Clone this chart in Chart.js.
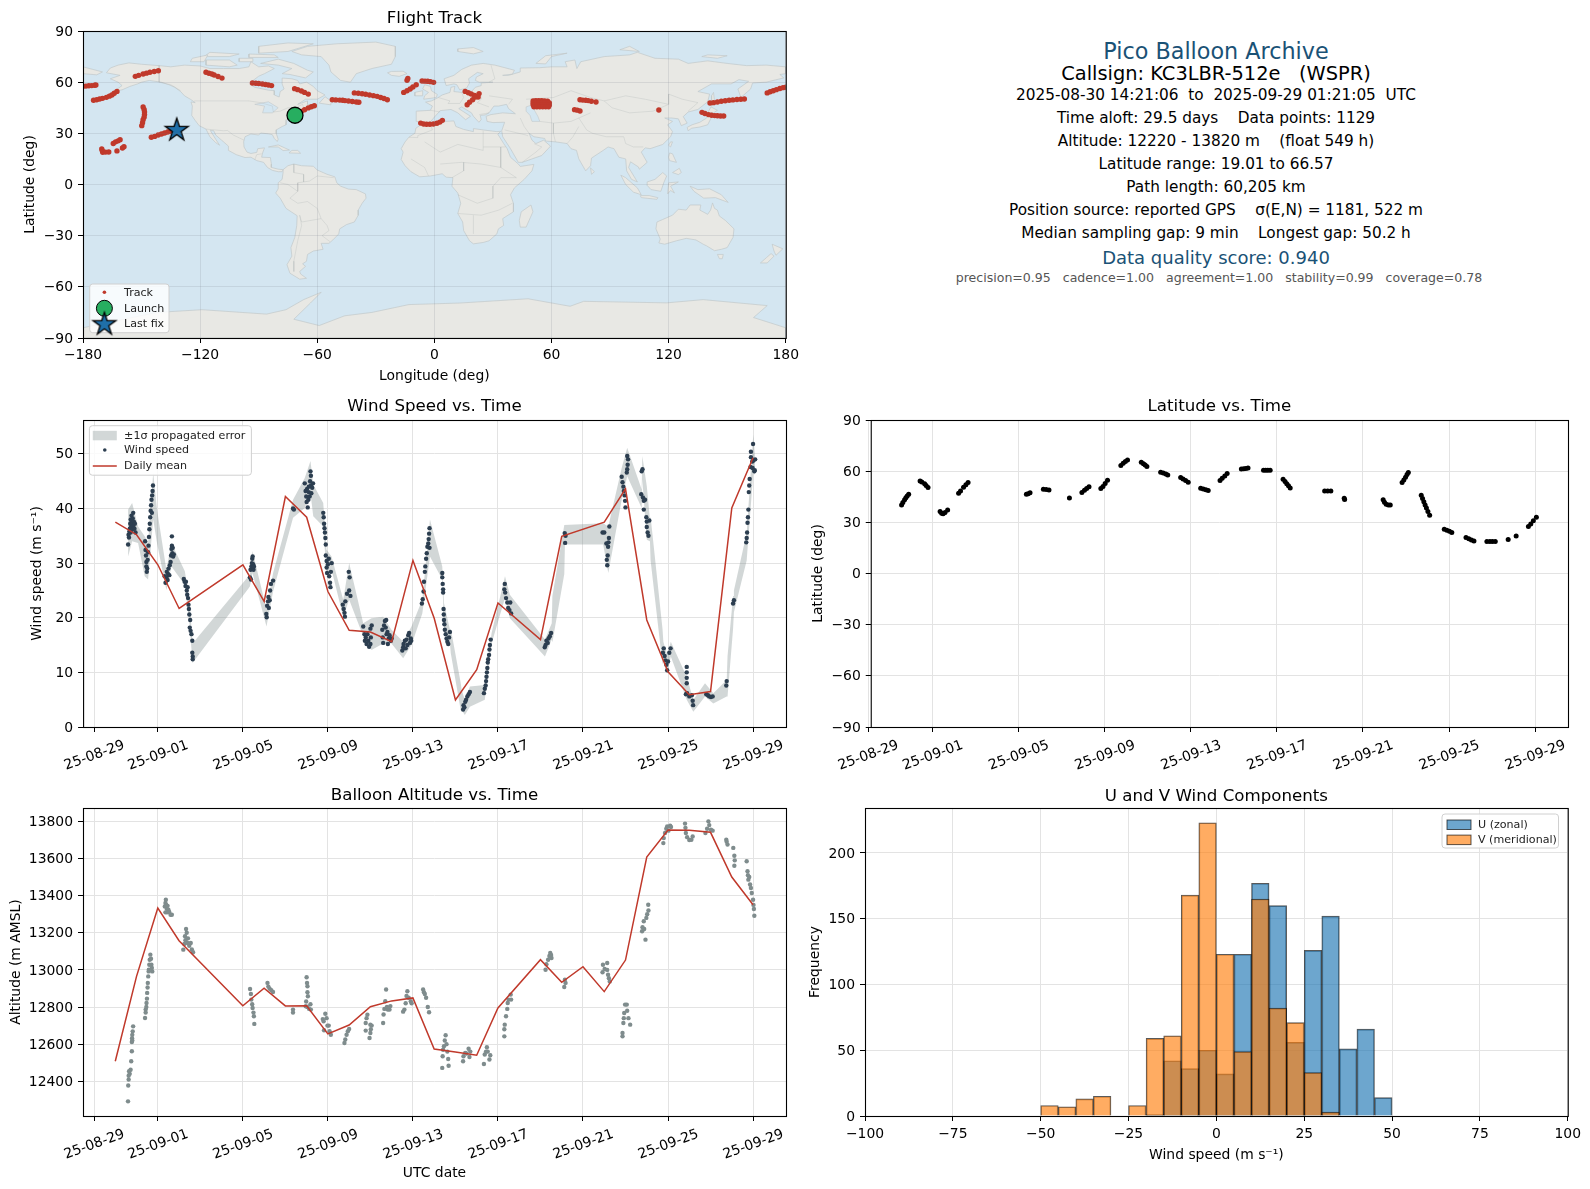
<!DOCTYPE html>
<html>
<head>
<meta charset="utf-8">
<title>Pico Balloon Archive</title>
<script src="https://cdn.jsdelivr.net/npm/chart.js@4"></script>
<style>
    body { margin: 0; background: #fff; font-family: "DejaVu Sans", sans-serif; }
    #page { position: relative; width: 1590px; height: 1189px; overflow: hidden; }
    canvas { position: absolute; }
    .info { position: absolute; left: 816px; width: 800px; text-align: center; white-space: pre; color: #000; font-size: 15.3px; line-height: 20px; }
    .big { font-size: 22.3px; color: #1a5276; }
    .call { font-size: 19.4px; }
    .score { font-size: 18px; color: #1a5276; }
    .small { left: 819px; font-size: 12.55px; color: #555; }
</style>
</head>
<body>
<div id="page">
    <canvas id="mapChart"></canvas>
    <canvas id="windChart"></canvas>
    <canvas id="latChart"></canvas>
    <canvas id="altChart"></canvas>
    <canvas id="histChart"></canvas>
</div>
<script>
// time is in days since 25-08-29 00:00 UTC
const timeTickDays = [0, 3, 7, 11, 15, 19, 23, 27, 31];
const timeTickLabels = ["25-08-29", "25-09-01", "25-09-05", "25-09-09", "25-09-13", "25-09-17", "25-09-21", "25-09-25", "25-09-29"];
const altTicks = [12400, 12600, 12800, 13000, 13200, 13400, 13600, 13800];

const infoLines = [
    ["big", 51, "Pico Balloon Archive"],
    ["call", 74.3, "Callsign: KC3LBR-512e   (WSPR)"],
    ["", 95.3, "2025-08-30 14:21:06  to  2025-09-29 01:21:05  UTC"],
    ["", 118.3, "Time aloft: 29.5 days    Data points: 1129"],
    ["", 141.3, "Altitude: 12220 - 13820 m    (float 549 h)"],
    ["", 164.3, "Latitude range: 19.01 to 66.57"],
    ["", 187.3, "Path length: 60,205 km"],
    ["", 210.3, "Position source: reported GPS    σ(E,N) = 1181, 522 m"],
    ["", 233.3, "Median sampling gap: 9 min    Longest gap: 50.2 h"],
    ["score", 258, "Data quality score: 0.940"],
    ["small", 277.7, "precision=0.95   cadence=1.00   agreement=1.00   stability=0.99   coverage=0.78"],
];

const launchPoint = [-71.4, 40.6];
const lastFixPoint = [-132, 32.5];

const trackPoints = [
    [-180, 57.6], [-178.5, 57.7], [-177, 57.9], [-175.5, 58], [-174, 58.2], [-173.4, 58.3],
    [-174.6, 49.4], [-173, 49.7], [-171.5, 50.1], [-170, 50.5], [-168, 51.1], [-166.5, 51.8], [-165.2, 52.5], [-164, 53.5], [-162.6, 54.6],
    [-153.2, 63.4], [-151.5, 64], [-149.2, 64.8], [-147.5, 65.3], [-145.7, 65.8], [-143.5, 66.3], [-141.4, 66.7],
    [-117, 65.8], [-115.5, 65.2], [-114, 64.8], [-112.8, 64.2], [-110.8, 63.3], [-108.8, 62.4],
    [-93.2, 59.5], [-91.5, 59.4], [-90, 59.2], [-88.1, 58.9], [-86.5, 58.6], [-85, 58.3], [-83.4, 58],
    [-71.6, 56.2], [-70, 55.6], [-68.1, 54.8], [-66.5, 54], [-64.6, 53],
    [-68.1, 42.9], [-66.5, 43.8], [-64.6, 44.9], [-63, 45.6], [-61.5, 46.2],
    [-52.3, 49.7], [-50.5, 49.6], [-48.5, 49.5], [-47, 49.4], [-45.8, 49.2], [-44, 49], [-42, 48.7], [-40, 48.4], [-38.7, 48.2],
    [-41, 53.7], [-39, 53.5], [-37, 53.2], [-35.2, 52.9], [-33.2, 52.5], [-31.2, 52.1], [-29.3, 51.7], [-27.5, 51], [-25.8, 50.4], [-24.1, 49.7],
    [-15.7, 54], [-14, 55], [-12.4, 56], [-11, 57.2], [-9.3, 58.5],
    [-14, 61.1], [-13.6, 62.2],
    [-6.3, 60.7], [-4.8, 60.6], [-3.4, 60.5], [-2, 60.3], [-0.4, 59.9],
    [15.8, 54.6], [17.4, 53.8], [18.9, 53.1], [20.6, 52.2], [22.4, 51.3],
    [16.8, 46.8], [18, 48.2], [19.6, 49.7], [21, 51.3], [22.9, 53.3],
    [-7, 36], [-5.5, 35.5], [-4, 35.3], [-2.3, 35.3], [-0.5, 35.5], [1.3, 35.9], [2.8, 36.6], [4.1, 37.6],
    [50.6, 49], [52, 49.2], [53.5, 49.2], [55, 49.2], [56.5, 49], [58, 48.8],
    [50.6, 47.8], [52, 48], [53.5, 48], [55, 48], [56.5, 48], [58, 48], [58.9, 47.8],
    [50.6, 46.8], [52, 46.8], [53.5, 46.8], [55, 46.8], [56.5, 46.8], [58, 46.8], [58.9, 46.6],
    [51, 45.6], [52.5, 45.6], [54, 45.6], [55.5, 45.6], [57, 45.6], [58.5, 45.6],
    [71.8, 43.9], [73.2, 43.6], [74.6, 43.1],
    [74.6, 49.7], [76, 49.5], [77.5, 49.4], [78.8, 49.2], [80.4, 48.8], [82.8, 48.4],
    [115, 43.7],
    [141.2, 47.8], [143, 48], [145, 48.4], [147, 48.8], [149, 49.1], [151, 49.4], [152.9, 49.6], [155, 49.8], [157, 50], [158.8, 50.1],
    [137.1, 42.3], [138.6, 41.6], [140.4, 41], [142, 40.6], [143.6, 40.4], [145, 40.3], [146.6, 40.2], [148.2, 40.2],
    [170.5, 53.7], [172, 54.4], [173.6, 55], [175.2, 55.6], [177, 56.3], [178.6, 56.8], [180, 57],
    [-149.2, 45.4], [-148.7, 44], [-148.5, 42.5], [-148.5, 41], [-148.7, 39.5], [-149.2, 38], [-149.5, 36.2], [-149.9, 34.5],
    [-145, 27.7], [-143.3, 28.2], [-141.5, 29], [-139.8, 29.6], [-138.2, 30.2], [-136.6, 30.8], [-135.1, 31.2],
    [-164.5, 24], [-163.3, 25], [-162, 25.6], [-161, 26.3],
    [-170.4, 20.8], [-170.1, 19.8], [-169.9, 18.9], [-168.4, 19], [-166.8, 19.1],
    [-162.6, 19.7], [-159.8, 21.4], [-159, 22.2],
];

const windPoints = [
    [1.60, 33.4], [1.62, 35.2], [1.64, 34.7], [1.66, 35.8], [1.68, 36.3], [1.70, 37.2], [1.72, 38.0], [1.72, 35.6], [1.74, 36.6], [1.76, 37.7], [1.76, 38.7], [1.78, 36.1], [1.80, 37.2], [1.82, 38.2], [1.84, 39.2], [1.84, 36.7], [1.87, 37.6], [1.90, 36.3], [1.92, 37.2], [1.95, 35.6],
    [2.40, 34.0], [2.42, 32.4], [2.44, 31.4], [2.46, 30.2], [2.46, 29.4], [2.48, 28.4], [2.50, 29.0], [2.52, 30.6], [2.54, 32.0], [2.56, 33.2], [2.58, 34.8], [2.60, 36.2], [2.62, 37.2], [2.64, 38.4], [2.66, 39.6], [2.68, 40.6], [2.70, 41.6], [2.72, 39.2], [2.73, 42.4], [2.75, 43.2], [2.77, 44.2],
    [3.32, 27.6], [3.36, 26.4], [3.40, 27.4], [3.42, 28.4], [3.46, 26.9], [3.48, 28.0], [3.50, 29.0], [3.54, 27.8], [3.56, 29.6], [3.60, 30.2], [3.62, 31.4], [3.64, 32.6], [3.66, 33.2], [3.66, 34.9], [3.68, 31.8], [3.70, 32.8], [3.72, 31.2], [3.75, 31.6],
    [4.22, 27.1], [4.26, 26.6], [4.30, 25.8], [4.32, 26.6], [4.36, 25.0], [4.38, 24.2], [4.40, 25.6], [4.42, 23.6], [4.44, 22.4], [4.46, 21.6], [4.48, 20.6], [4.52, 19.6], [4.50, 18.2], [4.54, 17.6], [4.58, 17.0], [4.62, 15.8], [4.62, 13.6], [4.64, 12.9], [4.64, 12.4],
    [7.33, 27.4], [7.38, 27.0], [7.36, 28.8], [7.40, 29.4], [7.42, 30.0], [7.44, 30.8], [7.46, 31.2], [7.48, 29.8], [7.50, 28.8], [7.52, 29.4],
    [8.10, 20.7], [8.12, 20.1], [8.14, 22.2], [8.18, 23.0], [8.20, 23.8], [8.22, 21.8], [8.26, 23.2], [8.28, 25.0], [8.32, 26.2], [8.42, 26.8],
    [9.36, 40.0], [9.40, 39.8],
    [9.91, 44.6], [9.95, 43.2], [9.98, 42.2], [10.0, 41.2], [10.02, 43.6], [10.05, 40.2], [10.08, 41.6], [10.10, 43.0], [10.10, 44.0], [10.14, 42.2], [10.16, 45.0], [10.18, 46.8], [10.20, 46.0], [10.2, 44.2], [10.22, 42.8], [10.26, 43.8], [10.30, 44.6],
    [10.78, 39.2], [10.80, 38.4], [10.82, 37.2], [10.84, 36.4], [10.86, 35.6], [10.88, 34.6], [10.90, 33.4], [10.90, 31.4], [10.94, 30.4], [10.94, 29.2], [10.96, 28.2], [11.0, 29.8], [11.04, 30.8], [11.06, 27.6], [11.10, 26.4], [11.12, 25.6], [11.14, 28.4], [11.18, 30.0],
    [11.70, 22.4], [11.74, 21.6], [11.78, 20.9], [11.80, 20.2], [11.82, 23.0], [11.90, 24.4], [11.98, 28.4], [12.02, 27.4], [12.0, 25.0], [12.06, 24.0],
    [12.66, 18.4], [12.72, 17.0], [12.74, 15.8], [12.78, 16.4], [12.82, 15.2], [12.86, 17.0], [12.90, 15.8], [12.94, 14.7], [13.0, 15.2], [13.02, 16.4], [13.0, 18.0], [13.06, 18.6],
    [13.56, 17.8], [13.58, 16.4], [13.60, 15.4], [13.64, 18.6], [13.68, 19.4], [13.72, 18.2], [13.74, 19.6], [13.76, 17.0], [13.80, 17.4], [13.82, 15.2], [13.86, 16.2], [13.90, 16.8], [13.96, 15.8], [14.0, 16.2],
    [14.50, 14.0], [14.54, 14.6], [14.56, 15.2], [14.62, 15.8], [14.66, 14.4], [14.70, 16.0], [14.74, 15.0], [14.78, 16.8], [14.82, 17.2], [14.86, 15.4], [14.90, 16.2], [14.92, 15.8],
    [15.42, 22.6], [15.46, 23.4], [15.50, 24.8], [15.52, 26.6], [15.56, 28.4], [15.58, 29.4], [15.62, 30.8], [15.65, 31.8], [15.68, 33.0], [15.72, 33.6], [15.74, 34.4], [15.76, 35.4], [15.78, 36.4], [15.78, 32.8],
    [16.38, 28.2], [16.38, 27.4], [16.40, 26.2], [16.42, 25.2], [16.42, 24.6], [16.44, 21.6], [16.45, 20.6], [16.46, 19.6], [16.48, 18.8], [16.50, 17.8], [16.54, 17.0], [16.58, 16.2], [16.62, 15.6], [16.66, 15.2], [16.70, 16.4], [16.74, 17.4],
    [17.36, 3.2], [17.38, 4.0], [17.42, 3.6], [17.46, 4.6], [17.50, 5.0], [17.56, 5.6], [17.62, 6.0], [17.68, 6.4],
    [18.34, 6.2], [18.38, 7.0], [18.42, 7.6], [18.44, 8.4], [18.46, 9.2], [18.48, 10.0], [18.50, 10.8], [18.52, 11.8], [18.54, 12.4], [18.58, 13.2], [18.60, 14.2], [18.62, 15.0], [18.66, 16.0],
    [19.32, 26.2], [19.30, 25.2], [19.34, 24.6], [19.38, 23.6], [19.44, 22.8], [19.48, 21.8], [19.54, 21.4], [19.58, 22.8], [19.62, 20.8],
    [21.20, 14.6], [21.24, 15.0], [21.28, 15.8], [21.34, 15.4], [21.38, 16.2], [21.44, 16.6], [21.5, 17.2],
    [22.14, 35.5], [22.16, 33.7], [22.18, 35.0],
    [23.92, 35.6], [24.00, 35.6], [24.10, 33.6], [24.12, 30.6], [24.14, 29.6], [24.16, 31.4], [24.18, 33.0], [24.2, 33.8], [24.22, 34.6], [24.24, 36.7],
    [24.82, 45.8], [24.86, 44.8], [24.90, 44.0], [24.92, 43.2], [24.96, 42.4], [24.98, 41.4], [25.0, 40.2], [25.06, 46.6], [25.08, 47.2], [25.1, 48.0], [25.08, 49.6], [25.12, 49.0],
    [25.76, 46.8], [25.80, 47.2], [25.74, 42.6], [25.82, 42.0], [25.86, 41.4], [25.92, 41.6], [25.86, 39.8], [25.98, 38.4], [26.0, 37.6], [26.0, 36.6], [26.04, 35.6], [26.08, 35.0], [26.12, 37.8],
    [26.76, 13.6], [26.80, 14.4], [26.84, 13.0], [26.88, 12.2], [26.92, 11.4], [26.96, 10.4], [27.0, 12.0], [27.06, 13.6], [27.12, 14.4],
    [27.88, 11.0], [27.88, 10.0], [27.88, 9.0], [27.88, 8.0], [27.9, 6.2], [27.84, 6.0], [28.0, 5.6], [28.12, 5.8], [28.16, 4.8], [28.18, 4.0],
    [28.80, 6.0], [28.88, 5.8], [28.94, 5.6], [29.02, 5.5], [29.1, 5.6],
    [29.74, 7.6], [29.76, 8.4],
    [30.06, 22.6], [30.1, 23.2],
    [30.68, 33.8], [30.7, 34.6], [30.72, 35.6], [30.74, 37.4], [30.76, 38.4], [30.78, 39.8], [30.80, 43.0], [30.82, 44.2], [30.84, 45.4], [30.88, 47.6], [30.90, 49.4], [30.90, 50.4], [30.96, 48.6], [30.98, 47.4], [31.0, 51.8], [31.02, 48.8], [31.06, 46.8], [31.08, 47.0], [31.1, 49.0],
];

// day, low edge, high edge of the 1 sigma band
const windBand = [
    [1.60, 31.2, 39.8], [1.79, 34.0, 41.0], [2.07, 33.7, 36.7], [2.38, 27.6, 34.9], [2.54, 27.0, 33.7], [2.78, 38.0, 46.5], [2.96, 33.7, 39.8],
    [3.40, 25.1, 28.8], [3.64, 29.4, 33.7], [4.27, 26.0, 28.5], [4.50, 18.4, 22.7], [4.63, 11.7, 15.3], [7.33, 25.7, 27.9], [7.45, 28.2, 32.2],
    [8.11, 18.4, 21.5], [8.42, 24.8, 28.2], [9.36, 38.3, 41.6], [9.91, 40.1, 45.6], [10.18, 42.8, 48.7], [10.31, 38.6, 44.4], [10.78, 36.7, 41.0],
    [10.93, 28.2, 32.5], [11.17, 28.8, 31.2], [11.72, 20.2, 23.3], [12.00, 23.3, 30.0], [12.66, 16.6, 19.0], [13.05, 14.1, 19.9], [13.60, 15.3, 20.2],
    [13.99, 15.3, 17.8], [14.54, 12.6, 15.6], [14.93, 15.0, 18.4], [15.44, 20.8, 23.3], [15.80, 31.2, 38.0], [16.38, 27.0, 29.4], [16.46, 18.4, 22.7],
    [16.74, 15.3, 17.8], [16.78, 13.5, 18.0], [17.25, 3.0, 8.0], [17.29, 3.1, 6.8], [17.44, 2.2, 5.0], [17.68, 3.7, 7.4], [18.38, 5.0, 7.7], [18.70, 15.3, 17.2], [19.33, 23.6, 27.6],
    [19.56, 19.9, 24.2], [21.21, 12.9, 16.0], [21.53, 16.0, 19.0], [21.56, 15.5, 24.0], [22.12, 28.0, 37.0], [22.15, 33.4, 37.0], [23.95, 33.4, 37.3], [24.19, 28.2, 36.7], [24.82, 41.6, 47.4],
    [25.08, 45.9, 51.1], [25.76, 40.1, 43.5], [25.79, 45.3, 49.6], [26.00, 34.3, 44.1], [26.15, 34.0, 38.0], [26.18, 30.5, 38.5], [26.74, 11.5, 18.0], [26.78, 12.3, 15.6], [26.96, 9.8, 13.2],
    [27.13, 12.9, 15.6], [27.88, 5.0, 9.2], [28.19, 2.8, 5.0], [28.74, 5.6, 8.0], [29.13, 4.3, 6.2], [29.76, 5.6, 8.6], [29.80, 5.6, 13.0], [30.06, 18.0, 24.0], [30.10, 21.0, 25.0],
    [30.70, 30.5, 35.5], [31.01, 46.5, 53.5], [31.09, 46.2, 49.6],
];

const windMeanDays = [1, 2, 3, 4, 7, 8, 9, 10, 11, 12, 13, 14, 15, 16, 17, 18, 19, 21, 22, 24, 25, 26, 27, 28, 29, 30, 31];
const windMeanValues = [37.5, 35.2, 29.7, 21.7, 29.7, 23.0, 42.2, 38.4, 24.8, 17.7, 17.4, 15.6, 30.5, 19.9, 4.95, 10.5, 22.7, 16.0, 34.9, 37.5, 43.6, 19.6, 10.1, 5.9, 6.5, 40.1, 49.3];

const latPoints = [
    [1.56, 40.2], [1.62, 41.6], [1.70, 43.2], [1.76, 44.4], [1.82, 45.4], [1.89, 46.5],
    [2.42, 54.3], [2.50, 53.6], [2.63, 52.6], [2.70, 51.6], [2.79, 50.4],
    [3.35, 36.3], [3.42, 35.4], [3.49, 35], [3.58, 35.8], [3.70, 37.3],
    [4.21, 47.1], [4.30, 48.4], [4.44, 50.6], [4.55, 52], [4.65, 53.3],
    [7.36, 46.5], [7.44, 46.8], [7.53, 47.3],
    [8.15, 49.4], [8.28, 49.2], [8.41, 48.9],
    [9.36, 44.2],
    [9.94, 47.5], [10.06, 48.8], [10.16, 49.8], [10.27, 50.8],
    [10.82, 49.8], [10.92, 51], [11.02, 52.8], [11.13, 54.7],
    [11.75, 63.3], [11.86, 64.6], [11.96, 65.6], [12.06, 66.6],
    [12.70, 65.3], [12.80, 64.4], [12.88, 63.6], [12.96, 62.7],
    [13.60, 59.4], [13.72, 58.9], [13.84, 58.3], [13.93, 57.8],
    [14.53, 56.3], [14.64, 55.4], [14.76, 54.5], [14.88, 53.5],
    [15.46, 50], [15.58, 49.6], [15.70, 49.1], [15.81, 48.7],
    [16.36, 54.5], [16.46, 55.8], [16.58, 57.2], [16.69, 58.6],
    [17.35, 61.2], [17.46, 61.4], [17.56, 61.6], [17.66, 61.8],
    [18.38, 60.6], [18.48, 60.6], [18.58, 60.6], [18.69, 60.6],
    [19.29, 55.3], [19.38, 53.9], [19.46, 52.6], [19.54, 51.4], [19.62, 50.2],
    [21.22, 48.3], [21.36, 48.3], [21.51, 48.3],
    [22.13, 44.1], [22.15, 43.4],
    [23.94, 43.2], [24.0, 41.8], [24.08, 40.6], [24.18, 40.2], [24.27, 40.2],
    [24.82, 53.3], [24.90, 54.8], [24.98, 56.4], [25.05, 58], [25.11, 59.2],
    [25.71, 45.9], [25.77, 44], [25.83, 42], [25.89, 40.2], [25.95, 38.4], [26.02, 36.3], [26.10, 34.2],
    [26.78, 26], [26.90, 25.4], [27.02, 24.8], [27.13, 24],
    [27.79, 21.1], [27.92, 20.4], [28.04, 19.6], [28.16, 19.1],
    [28.76, 18.7], [28.90, 18.7], [29.02, 18.7], [29.15, 18.7],
    [29.75, 19.9],
    [30.12, 22],
    [30.69, 27.5], [30.80, 29], [30.92, 31], [31.06, 33],
];

const altPoints = [
    [1.60, 12292], [1.61, 12377], [1.63, 12409], [1.63, 12430], [1.65, 12454], [1.68, 12440], [1.72, 12462], [1.75, 12508], [1.78, 12562], [1.78, 12612], [1.79, 12632], [1.80, 12650], [1.82, 12669], [1.84, 12696], [1.80, 12620],
    [2.40, 12741], [2.43, 12786], [2.43, 12770], [2.46, 12800], [2.47, 12822], [2.49, 12845], [2.50, 12876], [2.52, 12905], [2.53, 12930], [2.55, 12965], [2.57, 12992], [2.58, 13001], [2.60, 13028], [2.62, 13055], [2.65, 13082], [2.68, 13060], [2.70, 13028], [2.74, 12992], [2.72, 13010],
    [3.33, 13342], [3.36, 13360], [3.38, 13378], [3.40, 13350], [3.42, 13330], [3.46, 13345], [3.50, 13324], [3.54, 13312], [3.60, 13297], [3.66, 13297], [3.36, 13310], [3.44, 13310],
    [4.20, 13109], [4.25, 13140], [4.28, 13181], [4.30, 13160], [4.33, 13220], [4.36, 13200], [4.40, 13145], [4.42, 13170], [4.48, 13130], [4.55, 13145], [4.60, 13110], [4.66, 13095],
    [7.34, 12897], [7.38, 12870], [7.40, 12840], [7.44, 12815], [7.46, 12795], [7.50, 12770], [7.52, 12750], [7.54, 12709],
    [8.16, 12930], [8.2, 12910], [8.26, 12899], [8.34, 12890], [8.42, 12881],
    [9.36, 12786], [9.36, 12770],
    [10.0, 12960], [10.02, 12930], [10.04, 12912], [10.04, 12880], [10.06, 12858], [9.98, 12830], [9.96, 12804], [10.04, 12800], [10.12, 12790], [10.2, 12786], [10.18, 12815],
    [10.76, 12735], [10.8, 12723], [10.82, 12675], [10.88, 12764], [10.94, 12740], [10.98, 12700], [11.04, 12700], [11.08, 12670], [11.14, 12651],
    [11.78, 12606], [11.82, 12625], [11.88, 12651], [11.94, 12670], [12.0, 12682],
    [12.78, 12673], [12.78, 12714], [12.82, 12740], [12.86, 12759], [13.0, 12705], [12.96, 12633], [13.0, 12660], [13.06, 12700], [13.02, 12680],
    [13.6, 12714], [13.62, 12760], [13.66, 12790], [13.7, 12831], [13.74, 12894], [13.78, 12800], [13.82, 12786], [13.9, 12786], [13.94, 12805],
    [14.54, 12775], [14.6, 12786], [14.66, 12820], [14.7, 12860], [14.74, 12885], [14.8, 12850], [14.9, 12831], [14.94, 12820],
    [15.48, 12894], [15.56, 12870], [15.62, 12850], [15.70, 12800], [15.76, 12772], [15.52, 12880],
    [16.38, 12472], [16.40, 12535], [16.42, 12570], [16.46, 12589], [16.5, 12620], [16.54, 12648], [16.58, 12600], [16.62, 12560], [16.68, 12484], [16.66, 12520],
    [17.36, 12508], [17.38, 12535], [17.46, 12553], [17.52, 12550], [17.62, 12575], [17.66, 12531], [17.7, 12560],
    [18.34, 12493], [18.38, 12544], [18.44, 12560], [18.48, 12583], [18.52, 12560], [18.6, 12517], [18.64, 12540],
    [19.3, 12642], [19.3, 12680], [19.32, 12705], [19.38, 12750], [19.44, 12790], [19.46, 12822], [19.5, 12840], [19.6, 12867], [19.62, 12840],
    [21.24, 13001], [21.28, 13030], [21.36, 13055], [21.42, 13075], [21.46, 13091], [21.52, 13064], [21.5, 13080],
    [22.15, 12947], [22.12, 12908], [22.18, 12930],
    [23.94, 13028], [23.92, 12987], [24.02, 13005], [24.14, 13037], [24.14, 13000], [24.18, 12974], [24.26, 12938], [24.22, 12955],
    [24.86, 12642], [24.86, 12660], [24.9, 12714], [24.92, 12740], [24.94, 12768], [24.98, 12813], [25.06, 12813], [25.08, 12780], [25.14, 12740], [25.22, 12705],
    [25.78, 13208], [25.8, 13230], [25.86, 13262], [25.88, 13220], [25.94, 13163], [25.98, 13280], [26.02, 13300], [26.07, 13351], [26.08, 13320],
    [26.78, 13683], [26.8, 13710], [26.86, 13737], [26.92, 13760], [26.96, 13773], [27.02, 13750], [27.1, 13777], [27.14, 13770],
    [27.8, 13788], [27.82, 13765], [27.84, 13737], [27.9, 13715], [28.0, 13700], [28.1, 13701], [28.16, 13719],
    [28.76, 13737], [28.84, 13760], [28.9, 13800], [28.94, 13780], [29.02, 13755], [29.1, 13750],
    [29.74, 13701], [29.76, 13690], [29.8, 13675],
    [30.07, 13657], [30.12, 13615], [30.14, 13590], [30.12, 13561],
    [30.7, 13585], [30.74, 13531], [30.76, 13510], [30.78, 13486], [30.82, 13500], [30.86, 13460], [30.9, 13441], [30.94, 13414], [31.0, 13378], [31.02, 13350], [31.04, 13328], [31.06, 13292],
];

const altMeanDays = [1, 2, 3, 4, 7, 8, 9, 10, 11, 12, 13, 14, 15, 16, 17, 18, 19, 21, 22, 23, 24, 25, 26, 27, 28, 29, 30, 31];
const altMeanValues = [12508, 12965, 13333, 13157, 12807, 12901, 12806, 12807, 12655, 12703, 12802, 12833, 12849, 12574, 12558, 12540, 12795, 13055, 12933, 13017, 12883, 13053, 13608, 13753, 13752, 13741, 13500, 13351];

const histBinCenters = [-47.5, -42.5, -37.5, -32.5, -27.5, -22.5, -17.5, -12.5, -7.5, -2.5, 2.5, 7.5, 12.5, 17.5, 22.5, 27.5, 32.5, 37.5, 42.5, 47.5];
const histU = [0, 0, 0, 0, 0, 0, 1, 42, 36, 50, 32, 123, 177, 160, 56, 126, 152, 51, 66, 14];
const histV = [8, 7, 13, 15, 0, 8, 59, 61, 168, 223, 123, 49, 165, 82, 71, 33, 3, 0, 0, 0];

const landPolygons = [
    // North America
    [[-168, 65.5], [-166, 68.3], [-162, 70], [-156.5, 71.3], [-150, 70.5], [-141, 69.7], [-135, 69], [-128, 70], [-120, 69.5], [-115, 68], [-108, 68], [-100, 68], [-95, 69], [-94, 72], [-90, 69], [-85, 69.5], [-82, 68], [-87, 65], [-90, 63.5], [-94, 60], [-94.5, 58.7], [-92, 57], [-85, 55.3], [-82, 55], [-82, 52.5], [-79.5, 51.3], [-79, 54.5], [-77, 56], [-78, 59], [-78, 62.4], [-73, 62], [-70, 61], [-69, 59], [-65.5, 60], [-62, 57.5], [-60, 55], [-56, 52.5], [-60, 50], [-66, 50], [-70, 47], [-65, 49], [-65, 47], [-61, 46], [-66, 44], [-70, 43.5], [-70, 41.7], [-74, 40.5], [-75.5, 38], [-76, 35], [-78, 34], [-81, 32], [-81, 30], [-80, 26.5], [-80.5, 25.2], [-82, 27], [-83, 29.2], [-85, 29.7], [-89, 30.2], [-90, 29], [-94, 29.6], [-97, 28], [-97.7, 25], [-97.5, 22], [-96, 19], [-94, 18.2], [-91, 18.8], [-90.5, 21], [-87, 21.5], [-88, 18.5], [-88.5, 16], [-84, 15.8], [-83.5, 12], [-83.5, 10], [-80, 9], [-77.5, 8.7], [-78, 7.5], [-80, 7.5], [-83, 8.3], [-85.5, 10], [-87.5, 13], [-91, 14], [-94, 16], [-97, 15.8], [-101.5, 17.5], [-105.5, 20], [-105.5, 22.5], [-109, 26], [-112, 29], [-113, 31.5], [-114.8, 31.7], [-112, 26.5], [-110, 23], [-112, 24.5], [-115, 28], [-117, 32.5], [-120.5, 34.5], [-122.5, 37.5], [-124.3, 40.5], [-124, 46], [-124.7, 48.4], [-122.5, 48], [-125, 50], [-128, 52], [-130, 54.5], [-133, 57], [-136, 58.5], [-140, 60], [-146, 61], [-150, 60], [-152, 59], [-156, 57.5], [-160, 55.5], [-164, 54.7], [-160, 58], [-162, 60], [-166, 62], [-161, 64], [-168, 65.5]],
    // South America
    [[-77.5, 8.7], [-75, 11], [-72, 12], [-68, 11], [-62, 10.7], [-60, 8.5], [-55, 6], [-51, 4.5], [-50, 1], [-48, -1], [-44, -2.7], [-40, -3], [-35.3, -5.5], [-35, -8], [-37, -11], [-39, -15], [-39, -18], [-41, -22], [-45, -23.5], [-48.5, -26], [-49, -29], [-52, -32.5], [-54, -34.5], [-58, -34.5], [-57, -38], [-62, -39], [-65, -41], [-65.5, -45], [-67.5, -46.5], [-66, -48], [-69, -51], [-68.5, -52.5], [-65.5, -55], [-69, -55.5], [-74, -52], [-75.5, -47], [-73, -42], [-73.5, -37], [-71.5, -31], [-70.5, -24], [-70.3, -18.3], [-76, -14], [-79, -8], [-81.3, -5], [-80, -2.5], [-80, 1], [-78, 3], [-77.5, 7], [-77.5, 8.7]],
    // Africa
    [[-6, 35.8], [-2, 35.2], [3, 36.8], [10, 37.3], [11, 34], [15, 32.3], [20, 31], [20, 32.8], [25, 32], [32, 31], [34, 31.2], [32.5, 29.5], [35.5, 24], [37.3, 21], [39, 16], [43, 12], [44, 10.6], [51, 11.8], [50, 8], [46, 3], [41, -2], [39, -6], [40.5, -11], [40.5, -16], [35, -20], [35.5, -24], [32.8, -26], [32, -29], [28, -33], [25, -34], [20, -34.8], [18, -33], [15, -27], [14.5, -22], [12, -17], [13.5, -11], [12, -5], [9, -1], [9.5, 4], [6, 4.3], [4, 6.3], [-2, 5], [-7.5, 4.5], [-12, 7.5], [-15, 11], [-17, 14.7], [-16, 19], [-17, 21], [-15, 25], [-13, 27.8], [-10, 30], [-9.5, 33], [-6, 35.8]],
    // Eurasia
    [[-9, 37], [-9.3, 43], [-2, 43.5], [-1, 46], [-4.5, 48.3], [-1.5, 49], [2, 51], [4, 52.5], [8, 54], [8.5, 57], [10.5, 57.5], [10, 54.5], [14, 54], [19, 54.5], [21, 57], [24, 58], [24, 59.5], [30, 60], [23, 60], [21, 61], [21.5, 63], [25, 65], [22, 65.7], [17.5, 62], [18, 59.5], [16.5, 56.5], [13, 55.5], [11.5, 58.5], [10, 59], [6, 58], [5, 62], [10, 64], [14, 67.5], [19, 70], [25, 71], [31, 70], [41, 67], [40, 64.7], [35, 64], [38, 64], [44, 66], [44, 68.3], [54, 68.5], [60, 69], [68, 69], [67, 72], [72, 73], [73, 68], [75, 72], [81, 73.5], [87, 75], [100, 76], [104, 77.5], [113, 74], [125, 73.5], [130, 71], [140, 72.5], [150, 71], [160, 69.7], [170, 70], [180, 69], [180, 65], [177, 64.5], [179, 62.5], [170, 60], [163, 59.5], [162, 56], [157, 51], [155.5, 56], [161, 60.5], [156, 61.5], [152, 59], [142, 59], [135, 54.5], [141, 53], [140, 48.5], [135, 44], [130, 42.5], [127.5, 39.8], [129.5, 36], [126.5, 34.5], [125, 38.5], [121.5, 39], [118, 39], [122, 37], [119.5, 35], [122, 31], [121, 28], [117, 23.5], [110.5, 21], [108, 21.5], [106, 19], [109, 13], [105, 9], [104.5, 10.3], [100.5, 13.3], [99.5, 10], [104, 1.5], [101, 3], [98.5, 8], [98, 15], [94.5, 16], [92, 21], [89, 22], [86.5, 20], [80.5, 15.5], [80, 11], [77.5, 8], [74, 15], [72.8, 20], [70, 21], [68, 24], [62, 25], [57, 25.5], [56.5, 27], [51, 28], [48.5, 30], [50, 26], [52, 24], [56, 26], [59.5, 22.5], [55, 17], [45, 13], [43, 13], [39, 21], [35, 28], [34.5, 31.5], [36, 36.5], [30, 36.3], [27, 37], [26.5, 40], [29, 41], [35, 42], [41.5, 41.5], [38, 44.5], [37, 47], [33, 46], [30.5, 46], [28, 42], [26, 40.8], [23.5, 40.5], [24, 38], [22.8, 36.5], [20, 40], [19, 42], [14, 45.5], [12.5, 44.5], [18.5, 40], [16, 38], [12, 42], [8.5, 44], [3, 43.3], [0, 39.5], [-2, 36.8], [-5.5, 36], [-9, 37]],
    [[-180, 69], [-175, 67.5], [-170, 66], [-173, 64.3], [-180, 65], [-180, 69]],
    // Greenland and the Arctic islands
    [[-73, 78], [-65, 81], [-50, 82.5], [-30, 83.5], [-20, 81], [-20, 75], [-22, 70.5], [-32, 68], [-40, 65], [-43, 60], [-48, 61], [-53, 66], [-54, 70], [-58, 75], [-68, 76], [-73, 78]],
    [[-80, 73.5], [-72, 71], [-65, 67], [-62, 66], [-66, 62.5], [-74, 64.5], [-78, 65], [-73, 68], [-80, 70], [-89, 71], [-80, 73.5]],
    [[-90, 77], [-75, 78], [-62, 82.5], [-75, 83], [-90, 81], [-90, 77]],
    [[-117, 70], [-105, 69], [-101, 70], [-105, 73], [-117, 73], [-117, 70]],
    [[-125, 72], [-118, 72], [-116, 76], [-124, 74], [-125, 72]],
    [[-95, 74.5], [-80, 74.5], [-82, 76], [-95, 76.5], [-95, 74.5]],
    [[-100, 72], [-93, 72], [-93, 74], [-100, 74], [-100, 72]],
    [[-118, 75], [-105, 75], [-100, 76.5], [-115, 77.5], [-118, 75]],
    [[-59, 47.7], [-53, 46.7], [-53, 49], [-56, 51.5], [-59, 47.7]],
    [[-24, 65.5], [-22, 64], [-18, 63.4], [-14, 65], [-16, 66.4], [-22, 66.3], [-24, 65.5]],
    [[-5.5, 50], [1, 51], [1.5, 52.8], [-1.5, 55], [-2, 57.5], [-5, 58.5], [-6, 56], [-3, 54], [-5, 52], [-5.5, 50]],
    [[-10, 52], [-6, 52], [-6, 55], [-10, 54], [-10, 52]],
    [[12, 78], [20, 76.6], [25, 78], [20, 80.3], [12, 79.5], [12, 78]],
    [[52, 71], [57, 70.7], [60, 75], [68, 77], [57, 75.5], [52, 71]],
    [[95, 79], [105, 78], [100, 81], [95, 79]],
    [[137, 75], [145, 74], [150, 75.5], [140, 76], [137, 75]],
    // Japan and East Asia
    [[130, 31.5], [131.8, 33], [136, 33.7], [140, 35], [142, 39.5], [141, 41.5], [139.5, 39], [136, 36.5], [132, 35], [129.5, 33.5], [130, 31.5]],
    [[140, 42], [143, 42], [145, 43.5], [141.7, 45.5], [140, 42]],
    [[142, 46], [143.5, 49], [143, 54], [142, 52], [142, 46]],
    [[120, 23], [121, 22], [122, 25], [121, 25], [120, 23]],
    // Caribbean
    [[-85, 22], [-80, 23.2], [-74.2, 20.2], [-77.5, 19.9], [-80, 22], [-85, 22]],
    [[-74.5, 18.5], [-68.5, 18.3], [-70, 20], [-73, 20], [-74.5, 18.5]],
    // South and Southeast Asia
    [[80, 9.7], [82, 7.5], [80.5, 6], [80, 9.7]],
    [[49.5, -12], [50.5, -16], [47, -25], [44, -25], [43.5, -21], [44.5, -16], [49.5, -12]],
    [[109, 1.5], [113, 3], [117, 7], [119, 5], [117.5, 1], [116, -4], [111, -3], [109, -0.5], [109, 1.5]],
    [[95.5, 5.5], [98, 4], [104, -2], [106, -6], [102, -4.5], [98, 0], [95.5, 5.5]],
    [[105.5, -6.5], [110, -6.5], [114.5, -7.7], [114, -8.7], [106, -7.7], [105.5, -6.5]],
    [[119.5, -5.5], [120, 1], [125, 1.5], [121, -1], [123, -5], [121, -3.5], [119.5, -5.5]],
    [[131, -1], [135, -3], [141, -2.5], [147, -6], [150.5, -10.5], [144, -7.7], [138, -8], [133, -4], [131, -1]],
    [[120, 16], [120.5, 18.5], [122, 18], [124, 13], [120.5, 14], [120, 16]],
    [[122, 7], [125.5, 9.5], [126.5, 7], [125, 5.8], [122, 7]],
    // Oceania
    [[114, -22], [113.5, -26], [115.7, -32], [115, -34.3], [118, -35], [124, -33], [129, -31.6], [134, -32.5], [137.7, -35], [139.5, -36], [143.5, -38.8], [147, -38], [150, -37], [153, -31], [153.5, -26], [149, -21], [146, -18.5], [145, -15], [143.5, -14], [142.5, -10.8], [141.5, -15], [140, -17.5], [136, -15], [136.5, -12], [131, -12], [129, -15], [125, -14.5], [122, -18], [117, -20.5], [114, -22]],
    [[145, -41], [148, -41], [147.5, -43.5], [146, -43.5], [145, -41]],
    [[173, -35], [178.5, -37.7], [175, -41.5], [174, -39], [173, -35]],
    [[172.5, -40.5], [174, -42], [170.5, -46], [167, -46], [170, -43], [172.5, -40.5]],
    // Antarctica
    [[-180, -84], [-142, -75], [-119, -73.4], [-86, -76], [-76, -73.4], [-67, -67.5], [-58, -63.2], [-63.5, -69.5], [-72, -79], [-59, -82.7], [-46, -77], [-32, -75], [-13, -70.4], [13, -69.5], [48, -67], [69.5, -71.4], [76.5, -68.5], [119, -69.4], [137.7, -67.5], [170.5, -71], [163.5, -78], [180, -84], [180, -90], [-180, -90], [-180, -84]],
];

const seaPolygons = [
    [[47, 45.5], [51, 47], [53, 45], [51, 44], [53, 40], [54, 37], [50, 37], [49, 40.5], [47, 43], [47, 45.5]],
    [[-92, 47], [-85, 48.5], [-80, 45], [-83, 42], [-88, 42], [-87, 46], [-92, 47]],
];

const borderLines = [
    [[-123, 49], [-95, 49], [-89, 48], [-83, 46], [-82.5, 42.5], [-79, 43], [-75, 45], [-71, 45], [-67.5, 47], [-67, 45]],
    [[-141, 69.7], [-141, 60], [-135, 58.5], [-130, 55]],
    [[-117, 32.5], [-108, 31.5], [-106, 31.7], [-103, 29], [-97.5, 26]],
    [[-92, 14.5], [-91, 17.5], [-88.5, 18]],
    [[-51.5, 4], [-60, 5], [-64, 2], [-70, 1], [-70, -4], [-74, -8], [-70, -11], [-65, -10], [-60, -14], [-58, -20], [-55, -24], [-54, -27], [-57.5, -30], [-53.5, -33.5]],
    [[-69, -18], [-68, -24], [-70, -33], [-72, -45], [-72, -51]],
    [[-72, 12], [-72, 7], [-67, 6], [-67, 1.5]],
    [[-69, -18], [-68, -22], [-58, -20]],
    [[-79, 1], [-75, 0], [-70, -4]],
    [[-13, 27.7], [-8.5, 27.5], [-8.5, 28.7], [-1, 32], [-2, 35]],
    [[-5, 25], [3, 19], [12, 23.5], [25, 20], [25, 31.5]],
    [[25, 22], [36.5, 22]],
    [[3, 12], [14, 13], [24, 12], [34, 10], [42, 4], [34, 4], [30, -1], [30, -8], [22, -11], [12, -6]],
    [[12, -17], [24, -18], [33, -15], [40, -11]],
    [[20, -29], [20, -18]],
    [[15, 13], [15, 8], [9, 4]],
    [[-12, 15], [-5, 10], [-3, 5]],
    [[34, 22], [34, 10]],
    [[-2, 43.5], [3, 42.5]],
    [[2, 51], [8, 49], [7, 47.5], [13, 47.5], [15, 51], [14, 54]],
    [[23.5, 54], [24, 50], [22, 48], [28, 45.5]],
    [[23, 41], [28, 42]],
    [[28, 52], [40, 50], [38, 47]],
    [[28, 60], [31, 62], [29, 70]],
    [[47, 50], [61, 51], [70, 55], [80, 51], [87, 49]],
    [[87, 49], [98, 52], [108, 50], [120, 47], [112, 43], [100, 42], [91, 45], [87, 49]],
    [[80, 42], [74, 39], [78, 32], [81, 30], [88, 28], [97, 28], [98, 24], [102, 22], [107, 22]],
    [[130, 43], [135, 48], [127, 50], [120, 53], [120, 47]],
    [[74, 34], [71, 28], [68, 24]],
    [[44, 39], [46, 34], [48.5, 30]],
    [[61, 36], [61, 30], [62, 25]],
    [[54, 37], [61, 36], [70, 37], [74, 39]],
    [[36, 32], [47, 29], [48, 28.5]],
    [[45, 13], [52, 19], [55, 22], [51, 24]],
];

Chart.defaults.font.family = '"DejaVu Sans", sans-serif';
Chart.defaults.font.size = 13.9;
Chart.defaults.color = "#000";
Chart.defaults.animation = false;
Chart.defaults.responsive = false;
Chart.defaults.events = [];
Chart.defaults.plugins.legend.display = false;
Chart.defaults.plugins.tooltip.enabled = false;

const GRID = "#e3e3e3";
const MAP_GRID = { color: "rgba(110,120,130,0.16)", tickColor: "#000", tickLength: 5, z: 1 };
const toXY = (pts) => pts.map((p) => ({ x: p[0], y: p[1] }));
const signed = (v) => (v < 0 ? "\u2212" + -v : String(v));

// filled 5 point star, chart.js only has the asterisk one
function makeStar(radius) {
    const size = Math.ceil(radius * 2 + 4);
    const c = document.createElement("canvas");
    c.width = c.height = size;
    const g = c.getContext("2d");
    g.translate(size / 2, size / 2 + 1);
    g.beginPath();
    for (let i = 0; i < 10; i++) {
        const r = i % 2 ? radius * 0.382 : radius;
        const a = -Math.PI / 2 + (i * Math.PI) / 5;
        g.lineTo(r * Math.cos(a), r * Math.sin(a));
    }
    g.closePath();
    g.fillStyle = "#1f6fa8";
    g.fill();
    g.lineWidth = 1.3;
    g.strokeStyle = "#000";
    g.stroke();
    return c;
}
const starImage = makeStar(12);

// draws frame, optional plot background and the legend box inside the axes
const panelPlugin = {
    id: "panel",
    beforeDraw(chart, args, opts) {
        if (!opts.background) return;
        const a = chart.chartArea;
        chart.ctx.fillStyle = opts.background;
        chart.ctx.fillRect(a.left, a.top, a.width, a.height);
    },
    afterDraw(chart, args, opts) {
        const ctx = chart.ctx;
        const a = chart.chartArea;
        ctx.save();
        ctx.strokeStyle = "#000";
        ctx.lineWidth = 1.1;
        ctx.strokeRect(a.left + 0.5, a.top + 0.5, a.width, a.height);
        const box = opts.legend;
        if (box) {
            const bx = a.left + box.dx;
            const by = a.top + box.dy;
            ctx.beginPath();
            ctx.roundRect(bx, by, box.w, box.h, 3);
            ctx.fillStyle = "rgba(255,255,255,0.82)";
            ctx.fill();
            ctx.strokeStyle = "#d0d0d0";
            ctx.lineWidth = 1;
            ctx.stroke();
            ctx.font = '11.1px "DejaVu Sans"';
            ctx.textBaseline = "middle";
            box.items.forEach((it) => {
                const y = by + it.y;
                ctx.lineWidth = 1;
                ctx.strokeStyle = "#000";
                if (it.patch) {
                    ctx.fillStyle = it.patch;
                    ctx.fillRect(bx + box.symX, y - 4.5, 24, 9.5);
                    if (it.edge) {
                        ctx.strokeStyle = it.edge;
                        ctx.strokeRect(bx + box.symX, y - 4.5, 24, 9.5);
                    }
                } else if (it.line) {
                    ctx.strokeStyle = it.line;
                    ctx.lineWidth = 1.5;
                    ctx.beginPath();
                    ctx.moveTo(bx + box.symX, y);
                    ctx.lineTo(bx + box.symX + 24, y);
                    ctx.stroke();
                } else if (it.star) {
                    ctx.drawImage(starImage, bx + box.symX - starImage.width / 2, y - starImage.height / 2);
                } else {
                    ctx.beginPath();
                    ctx.arc(bx + box.symX + (it.dotX || 0), y, it.r, 0, 2 * Math.PI);
                    ctx.fillStyle = it.dot;
                    ctx.fill();
                    if (it.ring) ctx.stroke();
                }
                ctx.fillStyle = "#222";
                ctx.fillText(it.label, bx + box.textX, y + 0.5);
            });
        }
        ctx.restore();
    },
};
Chart.register(panelPlugin);

function placeCanvas(id, left, top, width, height) {
    const c = document.getElementById(id);
    c.width = width;
    c.height = height;
    c.style.left = left + "px";
    c.style.top = top + "px";
    return c;
}

function titleOpts(text, top, bottom) {
    return {
        display: true,
        text,
        fullSize: false,
        font: { size: 16.67, weight: "normal", lineHeight: 1.2 },
        padding: { top, bottom },
    };
}

function axisTitle(text) {
    return { display: text != null, text, padding: 0, font: { size: 13.9, lineHeight: 1.2 } };
}

function valueAxis(min, max, step, width, title, fixedTicks) {
    const axis = {
        type: "linear",
        min,
        max,
        title: axisTitle(title),
        grid: { color: GRID, tickColor: "#000", tickLength: 5 },
        border: { display: false },
        ticks: { stepSize: step, includeBounds: false, padding: 5, labelOffset: 1, callback: signed },
        afterFit: (s) => { s.width = width; },
    };
    if (fixedTicks) {
        axis.afterBuildTicks = (s) => { s.ticks = fixedTicks.map((value) => ({ value })); };
    }
    return axis;
}

function timeAxis(min, max, height, title) {
    return {
        type: "linear",
        min,
        max,
        title: axisTitle(title),
        grid: { color: GRID, tickColor: "#000", tickLength: 5 },
        border: { display: false },
        afterBuildTicks: (s) => { s.ticks = timeTickDays.map((value) => ({ value })); },
        ticks: {
            autoSkip: false,
            minRotation: 20,
            maxRotation: 20,
            padding: 5,
            labelOffset: 30,
            callback: (v) => timeTickLabels[timeTickDays.indexOf(v)],
        },
        afterFit: (s) => { s.height = height; },
    };
}

// Flight track
const landSets = landPolygons.map((p) => ({
    data: toXY(p), order: 30, fill: "shape", backgroundColor: "#e8e8e4", borderColor: "#c2c8ca", borderWidth: 0.7, pointRadius: 0,
}));
const seaSets = seaPolygons.map((p) => ({
    data: toXY(p), order: 25, fill: "shape", backgroundColor: "#d4e6f1", borderColor: "#c2c8ca", borderWidth: 0.6, pointRadius: 0,
}));
const borderSets = borderLines.map((p) => ({
    data: toXY(p), order: 20, fill: false, borderColor: "rgba(170,175,178,0.45)", borderWidth: 0.6, pointRadius: 0,
}));

new Chart(placeCanvas("mapChart", 22, 8, 781, 377), {
    type: "line",
    data: {
        datasets: [
            ...landSets,
            ...seaSets,
            ...borderSets,
            { label: "Track", data: toXY(trackPoints), order: 2, showLine: false, pointRadius: 2.7, pointBorderWidth: 0, pointBackgroundColor: "#c0392b" },
            { label: "Launch", data: toXY([launchPoint]), order: 1, showLine: false, pointRadius: 8, pointBorderWidth: 1.3, pointBorderColor: "#000", pointBackgroundColor: "#27ae60" },
            { label: "Last fix", data: toXY([lastFixPoint]), order: 0, showLine: false, pointStyle: starImage },
        ],
    },
    options: {
        layout: { padding: { right: 14 } },
        scales: {
            x: {
                type: "linear", min: -180, max: 180,
                title: axisTitle("Longitude (deg)"),
                grid: MAP_GRID,
                border: { display: false },
                ticks: { stepSize: 60, padding: 4, maxRotation: 0, callback: signed },
                afterFit: (s) => { s.height = 47; },
            },
            y: {
                ...valueAxis(-90, 90, 30, 61, "Latitude (deg)"),
                grid: MAP_GRID,
            },
        },
        plugins: {
            title: titleOpts("Flight Track", 1, 2),
            panel: {
                background: "#d4e6f1",
                legend: {
                    dx: 6.7, dy: 253, w: 79.3, h: 48.7, symX: 14.7, textX: 34.3,
                    items: [
                        { label: "Track", dot: "#c0392b", r: 1.8, y: 8.3 },
                        { label: "Launch", dot: "#27ae60", r: 8, ring: true, y: 24.3 },
                        { label: "Last fix", star: true, y: 39.3 },
                    ],
                },
            },
        },
    },
});

// Wind speed
new Chart(placeCanvas("windChart", 29, 396, 771, 377), {
    type: "line",
    data: {
        datasets: [
            { label: "high", data: windBand.map((b) => ({ x: b[0], y: b[2] })), order: 3, fill: "+1", backgroundColor: "rgba(127,140,141,0.35)", borderWidth: 0, pointRadius: 0 },
            { label: "low", data: windBand.map((b) => ({ x: b[0], y: b[1] })), order: 4, fill: false, borderWidth: 0, pointRadius: 0 },
            { label: "Wind speed", data: toXY(windPoints), order: 1, showLine: false, pointRadius: 2.2, pointBorderWidth: 0, pointBackgroundColor: "#2c3e50" },
            { label: "Daily mean", data: windMeanDays.map((x, i) => ({ x, y: windMeanValues[i] })), order: 0, borderColor: "#c0392b", borderWidth: 1.5, pointRadius: 0 },
        ],
    },
    options: {
        layout: { padding: { right: 14 } },
        scales: {
            x: timeAxis(-0.518, 32.55, 46),
            y: valueAxis(0, 56.2, 10, 54, "Wind speed (m s\u207B\u00B9)"),
        },
        plugins: {
            title: titleOpts("Wind Speed vs. Time", 1, 3),
            panel: {
                legend: {
                    dx: 6.3, dy: 5.7, w: 162, h: 49.5, symX: 3.4, textX: 34.7,
                    items: [
                        { label: "\u00B11\u03C3 propagated error", patch: "rgba(127,140,141,0.35)", y: 9.6 },
                        { label: "Wind speed", dot: "#2c3e50", r: 1.8, y: 24.3, dotX: 12 },
                        { label: "Daily mean", line: "#c0392b", y: 40.3 },
                    ],
                },
            },
        },
    },
});

// Latitude
new Chart(placeCanvas("latChart", 804, 396, 778, 377), {
    type: "line",
    data: {
        datasets: [
            { label: "Latitude", data: toXY(latPoints), showLine: false, pointRadius: 2.5, pointBorderWidth: 0, pointBackgroundColor: "#000" },
        ],
    },
    options: {
        layout: { padding: { right: 14 } },
        scales: {
            x: timeAxis(0.127, 32.53, 46),
            y: valueAxis(-90, 90, 30, 61, "Latitude (deg)"),
        },
        plugins: { title: titleOpts("Latitude vs. Time", 1, 3), panel: {} },
    },
});

// Altitude
new Chart(placeCanvas("altChart", 8, 785, 792, 397), {
    type: "line",
    data: {
        datasets: [
            { label: "Altitude", data: toXY(altPoints), order: 1, showLine: false, pointRadius: 2.2, pointBorderWidth: 0, pointBackgroundColor: "#7f8c8d" },
            { label: "Daily mean", data: altMeanDays.map((x, i) => ({ x, y: altMeanValues[i] })), order: 0, borderColor: "#c0392b", borderWidth: 1.5, pointRadius: 0 },
        ],
    },
    options: {
        layout: { padding: { right: 14 } },
        scales: {
            x: timeAxis(-0.518, 32.55, 66, "UTC date"),
            y: valueAxis(12213, 13872, 200, 75, "Altitude (m AMSL)", altTicks),
        },
        plugins: { title: titleOpts("Balloon Altitude vs. Time", 1, 2), panel: {} },
    },
});

// U and V histogram
new Chart(placeCanvas("histChart", 807, 785, 779, 379), {
    type: "bar",
    data: {
        datasets: [
            { label: "U (zonal)", data: histBinCenters.map((x, i) => ({ x, y: histU[i] })), order: 1, backgroundColor: "rgba(31,119,180,0.65)", borderColor: "rgba(0,0,0,0.65)", borderWidth: 1 },
            { label: "V (meridional)", data: histBinCenters.map((x, i) => ({ x, y: histV[i] })), order: 0, backgroundColor: "rgba(255,127,14,0.65)", borderColor: "rgba(0,0,0,0.65)", borderWidth: 1 },
        ],
    },
    options: {
        layout: { padding: { right: 14 } },
        datasets: { bar: { barPercentage: 1, categoryPercentage: 1, grouped: false } },
        scales: {
            x: {
                type: "linear", min: -100, max: 100, offset: false,
                title: axisTitle("Wind speed (m s\u207B\u00B9)"),
                grid: { color: GRID, tickColor: "#000", tickLength: 5, offset: false },
                border: { display: false },
                ticks: { stepSize: 25, padding: 5, maxRotation: 0, callback: signed },
                afterFit: (s) => { s.height = 48; },
            },
            y: valueAxis(0, 234.2, 50, 58, "Frequency"),
        },
        plugins: {
            title: titleOpts("U and V Wind Components", 2, 1),
            panel: {
                legend: {
                    dx: 577, dy: 6, w: 116.5, h: 34, symX: 5, textX: 36,
                    items: [
                        { label: "U (zonal)", patch: "rgba(31,119,180,0.65)", edge: "rgba(0,0,0,0.65)", y: 10.5 },
                        { label: "V (meridional)", patch: "rgba(255,127,14,0.65)", edge: "rgba(0,0,0,0.65)", y: 25.6 },
                    ],
                },
            },
        },
    },
});

// text block on the top right
const page = document.getElementById("page");
infoLines.forEach(([cls, y, text]) => {
    const d = document.createElement("div");
    d.className = "info " + cls;
    d.style.top = y - 10 + "px";
    d.textContent = text;
    page.appendChild(d);
});
</script>
</body>
</html>
